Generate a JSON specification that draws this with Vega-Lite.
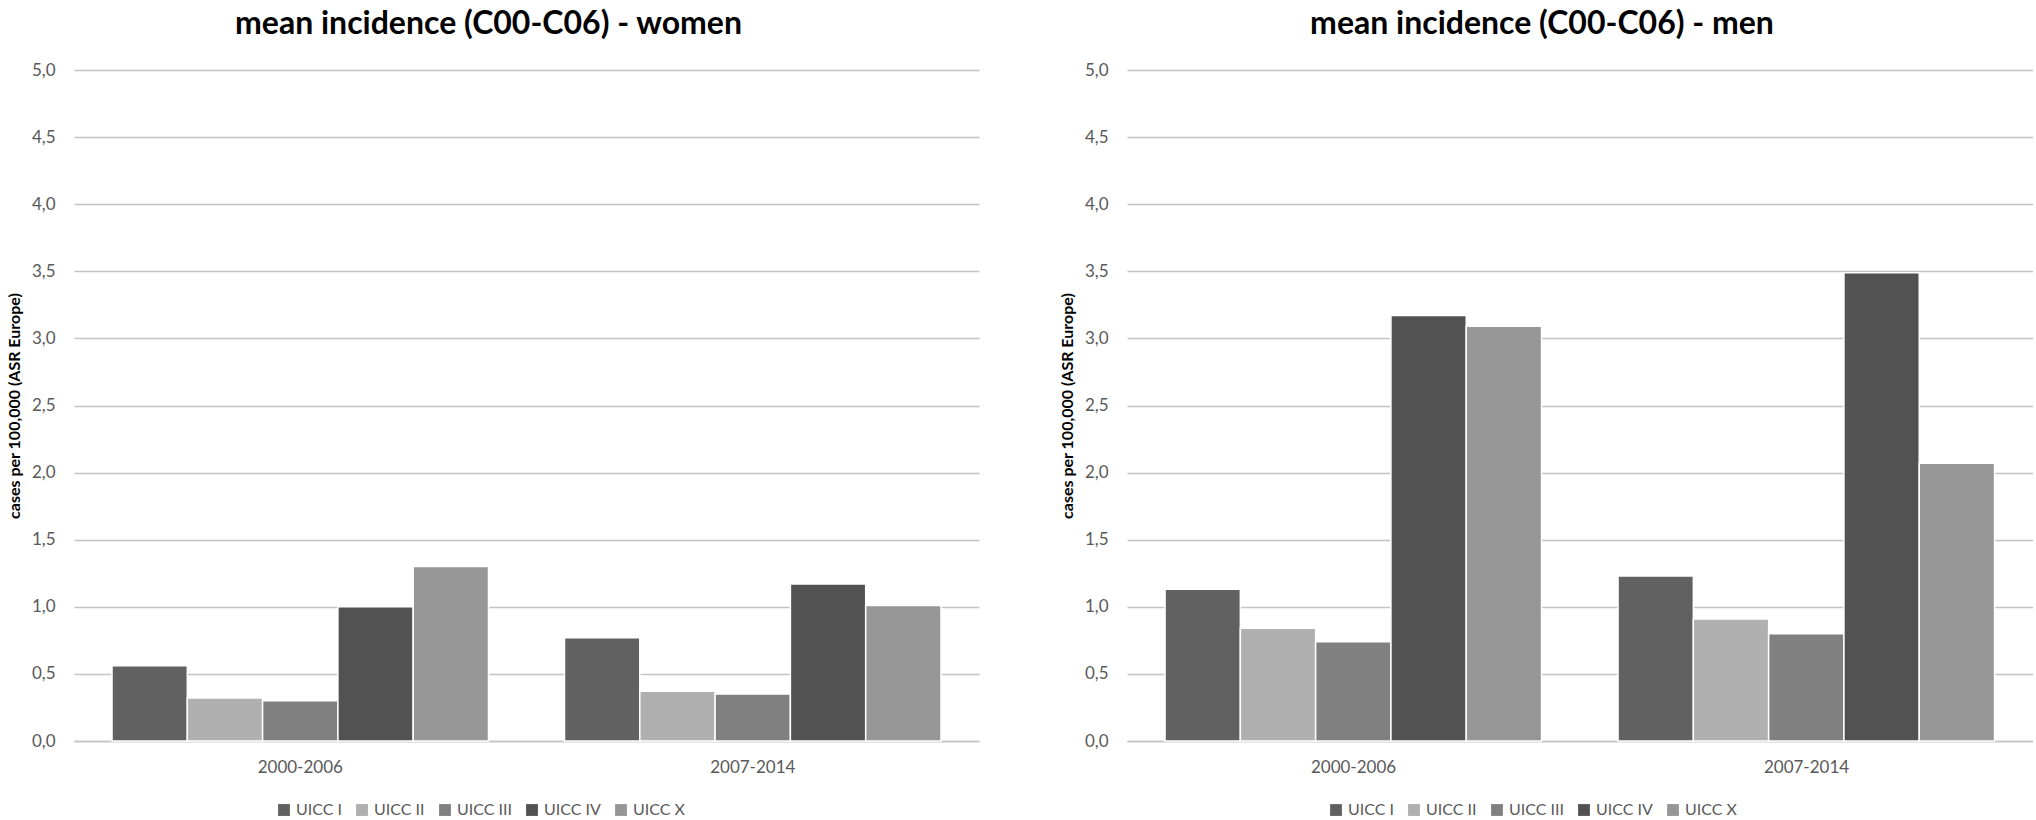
{
  "$schema": "https://vega.github.io/schema/vega-lite/v6.json",
  "padding": {"left": 6, "top": 8, "right": 0, "bottom": 0},
  "background": "white",
  "datasets": {
    "incidence": [
      {"sex": "women", "period": "2000-2006", "stage": "UICC I", "value": 0.56},
      {"sex": "women", "period": "2000-2006", "stage": "UICC II", "value": 0.32},
      {"sex": "women", "period": "2000-2006", "stage": "UICC III", "value": 0.30},
      {"sex": "women", "period": "2000-2006", "stage": "UICC IV", "value": 1.00},
      {"sex": "women", "period": "2000-2006", "stage": "UICC X", "value": 1.30},
      {"sex": "women", "period": "2007-2014", "stage": "UICC I", "value": 0.77},
      {"sex": "women", "period": "2007-2014", "stage": "UICC II", "value": 0.37},
      {"sex": "women", "period": "2007-2014", "stage": "UICC III", "value": 0.35},
      {"sex": "women", "period": "2007-2014", "stage": "UICC IV", "value": 1.17},
      {"sex": "women", "period": "2007-2014", "stage": "UICC X", "value": 1.01},
      {"sex": "men", "period": "2000-2006", "stage": "UICC I", "value": 1.13},
      {"sex": "men", "period": "2000-2006", "stage": "UICC II", "value": 0.84},
      {"sex": "men", "period": "2000-2006", "stage": "UICC III", "value": 0.74},
      {"sex": "men", "period": "2000-2006", "stage": "UICC IV", "value": 3.17},
      {"sex": "men", "period": "2000-2006", "stage": "UICC X", "value": 3.09},
      {"sex": "men", "period": "2007-2014", "stage": "UICC I", "value": 1.23},
      {"sex": "men", "period": "2007-2014", "stage": "UICC II", "value": 0.91},
      {"sex": "men", "period": "2007-2014", "stage": "UICC III", "value": 0.80},
      {"sex": "men", "period": "2007-2014", "stage": "UICC IV", "value": 3.49},
      {"sex": "men", "period": "2007-2014", "stage": "UICC X", "value": 2.07}
    ]
  },
  "config": {
    "font": "Lato",
    "view": {"stroke": null},
    "title": {"font": "Lato", "fontSize": 32, "fontWeight": "bold", "color": "black", "offset": 20, "dx": -38},
    "axis": {"labelFont": "Lato", "labelFontSize": 17, "labelColor": "#595959", "ticks": false, "domain": false, "gridColor": "#c4c4c4", "gridWidth": 1.6},
    "legend": {"labelFont": "Lato"}
  },
  "resolve": {"legend": {"color": "independent"}},
  "spacing": 80,
  "hconcat": [
    {
      "title": "mean incidence (C00-C06) - women",
      "data": {"name": "incidence"},
      "transform": [{"filter": "datum.sex == 'women'"}],
      "width": 905,
      "height": 671,
      "mark": {"type": "bar", "stroke": "white", "strokeWidth": 1.5},
      "encoding": {
        "x": {"field": "period", "type": "nominal", "title": null,
          "scale": {"paddingInner": 0.168, "paddingOuter": 0.084},
          "axis": {"labelAngle": 0, "labelPadding": 18, "grid": false, "domain": true, "domainColor": "#c4c4c4", "domainWidth": 1.6}},
        "xOffset": {"field": "stage", "type": "nominal", "sort": ["UICC I", "UICC II", "UICC III", "UICC IV", "UICC X"], "scale": {"paddingInner": 0}},
        "y": {"field": "value", "type": "quantitative", "title": "cases per 100,000 (ASR Europe)",
          "scale": {"domain": [0, 5]},
          "axis": {"values": [0, 0.5, 1, 1.5, 2, 2.5, 3, 3.5, 4, 4.5, 5], "labelExpr": "replace(format(datum.value, '.1f'), '.', ',')", "labelPadding": 19, "titleFont": "Lato", "titleFontSize": 16, "titleFontWeight": "bold", "titleColor": "black", "titlePadding": 9}},
        "color": {"field": "stage", "type": "nominal", "title": null,
          "scale": {"domain": ["UICC I", "UICC II", "UICC III", "UICC IV", "UICC X"], "range": ["#616161", "#b0b0b0", "#808080", "#525252", "#969696"]},
          "legend": {"orient": "none", "direction": "horizontal", "legendX": 202, "legendY": 732, "symbolType": "square", "symbolSize": 140, "symbolStrokeWidth": 0, "labelFontSize": 16, "labelColor": "#595959", "columnPadding": 12, "labelOffset": 4}}
      }
    },
    {
      "title": "mean incidence (C00-C06) - men",
      "data": {"name": "incidence"},
      "transform": [{"filter": "datum.sex == 'men'"}],
      "width": 906,
      "height": 671,
      "mark": {"type": "bar", "stroke": "white", "strokeWidth": 1.5},
      "encoding": {
        "x": {"field": "period", "type": "nominal", "title": null,
          "scale": {"paddingInner": 0.168, "paddingOuter": 0.084},
          "axis": {"labelAngle": 0, "labelPadding": 18, "grid": false, "domain": true, "domainColor": "#c4c4c4", "domainWidth": 1.6}},
        "xOffset": {"field": "stage", "type": "nominal", "sort": ["UICC I", "UICC II", "UICC III", "UICC IV", "UICC X"], "scale": {"paddingInner": 0}},
        "y": {"field": "value", "type": "quantitative", "title": "cases per 100,000 (ASR Europe)",
          "scale": {"domain": [0, 5]},
          "axis": {"values": [0, 0.5, 1, 1.5, 2, 2.5, 3, 3.5, 4, 4.5, 5], "labelExpr": "replace(format(datum.value, '.1f'), '.', ',')", "labelPadding": 19, "titleFont": "Lato", "titleFontSize": 16, "titleFontWeight": "bold", "titleColor": "black", "titlePadding": 9}},
        "color": {"field": "stage", "type": "nominal", "title": null,
          "scale": {"domain": ["UICC I", "UICC II", "UICC III", "UICC IV", "UICC X"], "range": ["#616161", "#b0b0b0", "#808080", "#525252", "#969696"]},
          "legend": {"orient": "none", "direction": "horizontal", "legendX": 201, "legendY": 732, "symbolType": "square", "symbolSize": 140, "symbolStrokeWidth": 0, "labelFontSize": 16, "labelColor": "#595959", "columnPadding": 12, "labelOffset": 4}}
      }
    }
  ]
}
